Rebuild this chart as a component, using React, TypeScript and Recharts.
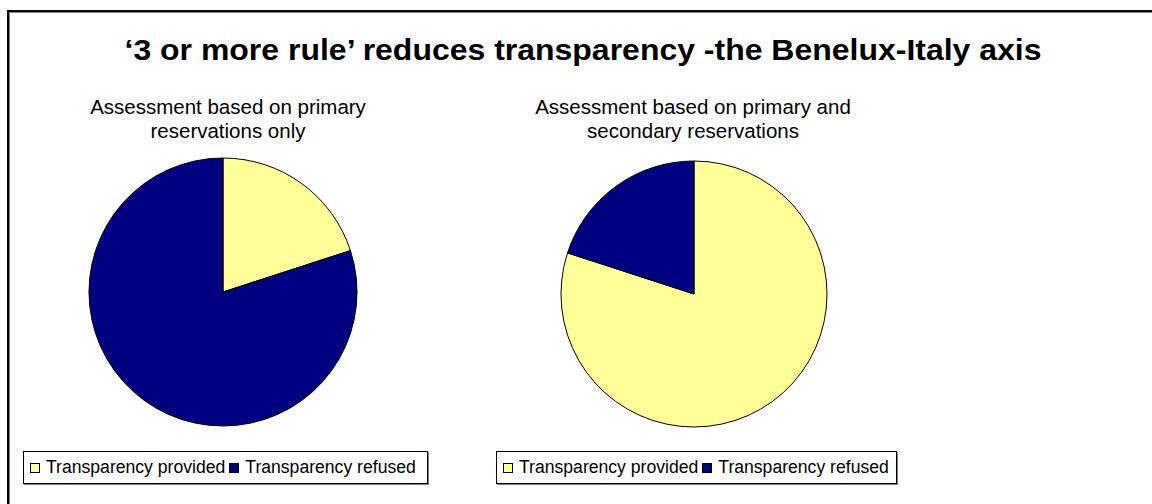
import React from 'react';
import { PieChart, Pie, Cell, Legend } from 'recharts';

// chart data
const categories = ['Transparency provided', 'Transparency refused'];
const primaryOnly = [20, 80];
const primaryAndSecondary = [80, 20];
const sliceColors = ['#FFFF99', '#000080'];

const chartTitle = '\u20183 or more rule\u2019 reduces transparency -the Benelux-Italy axis';
const leftSubtitle = ['Assessment based on primary', 'reservations only'];
const rightSubtitle = ['Assessment based on primary and', 'secondary reservations'];

const FONT = "'Liberation Sans', Arial, sans-serif";

const toRows = (values: number[]) =>
    categories.map((name, i) => ({ name, value: values[i] }));

const LegendBox = () => (
    <div
        style={{
            boxSizing: 'border-box',
            width: '100%',
            height: '100%',
            border: '1px solid #000',
            boxShadow: '1px 1px 0 #808080',
            background: '#fff',
            display: 'flex',
            alignItems: 'center',
            paddingLeft: 6,
            fontFamily: FONT,
            fontSize: 17.6,
            color: '#000',
            whiteSpace: 'nowrap',
        }}
    >
        {categories.map((c, i) => (
            <span key={c} style={{ display: 'inline-flex', alignItems: 'center', marginRight: 4 }}>
                <span
                    style={{
                        display: 'inline-block',
                        width: 8,
                        height: 8,
                        border: '1px solid #000',
                        background: sliceColors[i],
                        marginRight: 6,
                    }}
                />
                {c}
            </span>
        ))}
    </div>
);

type PieProps = {
    values: number[];
    cx: number;
    cy: number;
    r: number;
    legendLeft: number;
    legendWidth: number;
};

const OnePie: React.FC<PieProps> = ({ values, cx, cy, r, legendLeft, legendWidth }) => (
    <div style={{ position: 'absolute', left: 0, top: 0 }}>
        <PieChart width={1152} height={504} margin={{ top: 0, right: 0, bottom: 0, left: 0 }}>
            <Pie
                data={toRows(values)}
                dataKey="value"
                nameKey="name"
                cx={cx}
                cy={cy}
                outerRadius={r}
                startAngle={90}
                endAngle={-270}
                stroke="#000"
                strokeWidth={1}
                isAnimationActive={false}
            >
                {values.map((_, i) => (
                    <Cell key={i} fill={sliceColors[i]} />
                ))}
            </Pie>
            <Legend
                content={() => <LegendBox />}
                wrapperStyle={{ position: 'absolute', left: legendLeft, top: 451, width: legendWidth, height: 33 }}
            />
        </PieChart>
    </div>
);

const App: React.FC = () => {
    return (
        <div
            style={{
                position: 'absolute',
                left: 0,
                top: 0,
                width: 1152,
                height: 504,
                background: '#fff',
                overflow: 'hidden',
            }}
        >
            {/* outer frame: only top and left edges show */}
            <div
                style={{
                    position: 'absolute',
                    left: 7,
                    top: 10,
                    width: 1200,
                    height: 600,
                    borderLeft: '2px solid #000',
                    borderTop: '2px solid #000',
                }}
            />
            <div
                style={{
                    position: 'absolute',
                    left: 9,
                    top: 12,
                    width: 1200,
                    height: 600,
                    borderLeft: '1px solid #808080',
                    borderTop: '1px solid #808080',
                }}
            />

            <OnePie values={primaryOnly} cx={223} cy={292} r={134} legendLeft={23} legendWidth={405} />
            <OnePie values={primaryAndSecondary} cx={694} cy={294} r={133} legendLeft={496} legendWidth={401} />

            <svg
                width={1152}
                height={504}
                style={{ position: 'absolute', left: 0, top: 0, pointerEvents: 'none' }}
            >
                <text
                    x={583}
                    y={60}
                    textAnchor="middle"
                    fontFamily={FONT}
                    fontWeight="bold"
                    fontSize={29}
                    textLength={917}
                    lengthAdjust="spacingAndGlyphs"
                    fill="#000"
                >
                    {chartTitle}
                </text>
                {leftSubtitle.map((line, i) => (
                    <text key={line} x={228} y={114 + i * 24} textAnchor="middle" fontFamily={FONT} fontSize={20.5} fill="#000">
                        {line}
                    </text>
                ))}
                {rightSubtitle.map((line, i) => (
                    <text key={line} x={693} y={114 + i * 24} textAnchor="middle" fontFamily={FONT} fontSize={20.5} fill="#000">
                        {line}
                    </text>
                ))}
            </svg>
        </div>
    );
};

export default App;
